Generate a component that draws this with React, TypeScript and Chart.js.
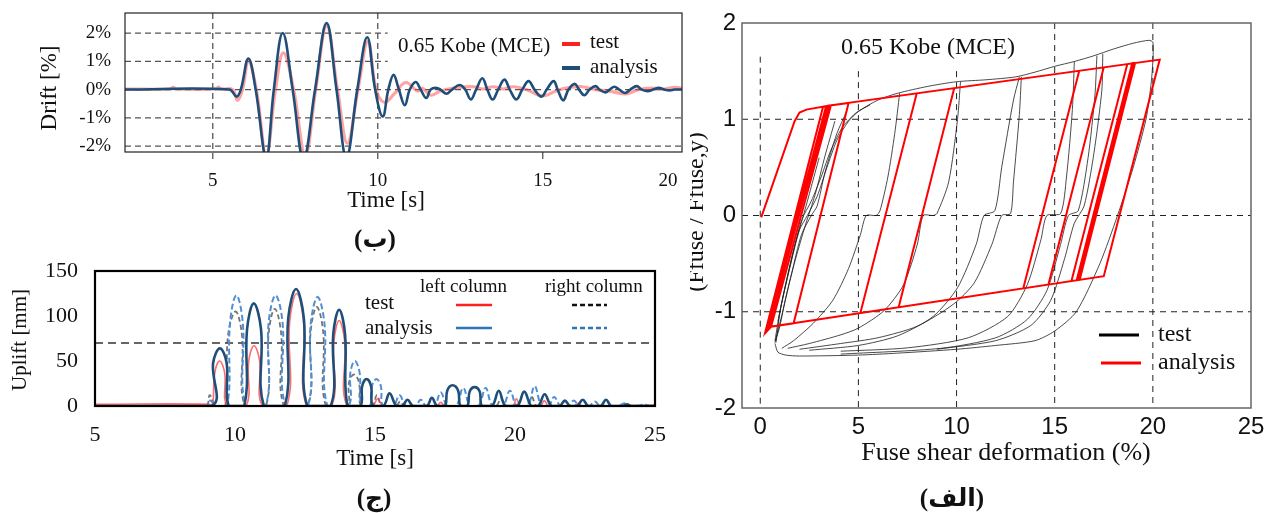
import React, { useEffect, useRef } from 'react';
import { Chart, registerables } from 'chart.js';

Chart.register(...registerables);

type Pt = [number, number];

const SERIF = "'Liberation Serif', 'Times New Roman', serif";
const SANS = "'Liberation Sans', Arial, sans-serif";
const ARABIC = "'Liberation Serif', 'DejaVu Sans', serif";

/* ---------- (ب) roof drift time history ---------- */
const DRIFT_X_TICKS = [5, 10, 15, 20];
const DRIFT_Y_TICKS = [-2, -1, 0, 1, 2];
const DRIFT_TEST: Pt[] = [
  [2.3, 0.02], [3.7, 0.02], [3.8, 0.08], [3.9, 0.02], [5.1, 0.02], [5.17, 0.09], [5.25, 0.02], [5.6, 0.0],
  [5.75, -0.38], [5.9, 0], [6.08, 1.0], [6.32, 0], [6.62, -2.3], [6.9, 0], [7.14, 1.3], [7.45, 0],
  [7.8, -2.3], [8.12, 0], [8.45, 2.25], [8.78, 0], [9.08, -1.9], [9.4, 0], [9.7, 1.7], [9.95, 0],
  [10.2, -0.45], [10.5, -0.15], [10.85, 0.25], [11.2, -0.05], [11.35, 0.05], [11.6, -0.2], [11.9, -0.05],
  [12.3, 0.05], [12.9, 0.1], [13.2, 0.02], [13.5, 0.1], [13.8, 0.02], [14.1, 0.1], [14.5, 0.0],
  [15.0, -0.22], [15.4, -0.05], [15.7, 0.05], [16.2, 0.1], [16.6, 0.0], [17.0, -0.05], [17.5, -0.15],
  [17.9, 0.0], [18.3, 0.05], [18.7, 0.02], [19.0, 0.08], [19.3, 0.03],
];
const DRIFT_ANALYSIS: Pt[] = [
  [2.3, 0], [5.5, 0], [5.72, -0.25], [5.85, 0], [6.08, 1.1], [6.3, 0], [6.62, -2.4], [6.85, 0],
  [7.12, 2.0], [7.42, 0], [7.75, -2.45], [8.1, 0], [8.45, 2.35], [8.75, 0], [9.05, -2.4], [9.38, 0],
  [9.68, 1.85], [9.92, 0], [10.15, -0.95], [10.32, 0], [10.48, 0.52], [10.64, 0], [10.82, -0.55],
  [10.97, 0], [11.15, 0.27], [11.3, 0], [11.47, -0.3], [11.6, 0], [11.76, 0.06], [11.9, 0],
  [12.08, -0.15], [12.25, 0], [12.48, 0.16], [12.65, 0], [12.82, -0.35], [12.98, 0], [13.17, 0.4],
  [13.32, 0], [13.48, -0.35], [13.65, 0], [13.84, 0.35], [14.0, 0], [14.2, -0.35], [14.38, 0],
  [14.57, 0.3], [14.75, 0], [14.96, -0.25], [15.12, 0], [15.33, 0.3], [15.45, 0], [15.62, -0.38],
  [15.78, 0], [15.97, 0.2], [16.1, 0], [16.26, -0.2], [16.42, 0], [16.6, 0.12], [16.72, 0],
  [16.9, -0.1], [17.03, 0], [17.17, 0.1], [17.32, 0], [17.5, -0.12], [17.65, 0], [17.85, 0.12],
  [18.0, 0], [18.18, -0.06], [18.35, 0], [18.52, 0.06], [18.68, 0], [18.85, -0.03], [19.0, 0], [19.3, 0],
];

/* ---------- (ج) column uplift ---------- */
const UPLIFT_X_TICKS = [5, 10, 15, 20, 25];
const UPLIFT_Y_TICKS = [0, 50, 100, 150];
const UPLIFT_LIMIT = 70;
const UPLIFT_LEFT_ANALYSIS: Pt[] = [
  [5, 0], [9.15, 0], [9.22, 48], [9.46, 64], [9.7, 48], [9.78, 0],
  [10.33, 0], [10.43, 85], [10.67, 114], [10.93, 85], [11.03, 0],
  [11.78, 0], [11.9, 97], [12.18, 130], [12.46, 97], [12.58, 0],
  [13.42, 0], [13.51, 80], [13.72, 107], [13.93, 80], [14.02, 0],
  [14.48, 0], [14.54, 22], [14.7, 30], [14.86, 22], [14.92, 0],
  [15.3, 0], [15.52, 14], [15.76, 0], [15.98, 0], [16.16, 7], [16.36, 0], [16.85, 0], [17.03, 9], [17.22, 0],
  [17.5, 0], [17.58, 17], [17.77, 23], [17.97, 17], [18.05, 0],
  [18.3, 0], [18.38, 16], [18.56, 21], [18.74, 16], [18.82, 0],
  [19.18, 0], [19.42, 17], [19.66, 0], [20.08, 0], [20.33, 16], [20.58, 0], [20.83, 0], [21.06, 13], [21.3, 0],
  [21.6, 0], [21.78, 6], [21.96, 0], [22.22, 0], [22.42, 7], [22.62, 0], [23.06, 0], [23.25, 7], [23.44, 0],
  [23.85, 0], [24.0, 2], [24.15, 0], [25, 0],
];
const UPLIFT_RIGHT_ANALYSIS: Pt[] = [
  [5, 0], [8.95, 0], [9.12, 6], [9.3, 0],
  [9.72, 0], [9.82, 92], [10.05, 123], [10.28, 92], [10.38, 0],
  [11.1, 0], [11.2, 92], [11.45, 123], [11.7, 92], [11.8, 0],
  [12.6, 0], [12.7, 90], [12.95, 121], [13.2, 90], [13.3, 0],
  [14.05, 0], [14.12, 37], [14.28, 50], [14.45, 37], [14.52, 0],
  [14.82, 0], [14.89, 22], [15.05, 30], [15.21, 22], [15.28, 0],
  [15.65, 0], [15.88, 12], [16.1, 0], [16.45, 0], [16.63, 7], [16.82, 0],
  [17.12, 0], [17.35, 15], [17.58, 0], [17.9, 0], [18.15, 20], [18.4, 0], [18.7, 0], [18.95, 20],
  [19.2, 0], [19.57, 0], [19.82, 17], [20.07, 0], [20.45, 0], [20.7, 22], [20.95, 0], [21.2, 0],
  [21.4, 10], [21.62, 0], [21.9, 0], [22.1, 6], [22.3, 0], [22.65, 0], [22.85, 5], [23.05, 0],
  [23.7, 0], [23.9, 3], [24.1, 0], [24.4, 0], [24.6, 2], [24.8, 0], [25, 0],
];
const UPLIFT_LEFT_TEST: Pt[] = [
  [5, 2], [9.1, 2], [9.2, 0], [9.28, 37], [9.45, 50], [9.63, 37], [9.72, 0],
  [10.4, 0], [10.49, 50], [10.68, 67], [10.88, 50], [10.98, 0],
  [11.85, 0], [11.95, 93], [12.2, 125], [12.45, 93], [12.55, 0],
  [13.45, 0], [13.53, 71], [13.72, 95], [13.92, 71], [14.0, 0],
  [14.9, 0], [15.1, 8], [15.3, 0],
  [17.2, 0], [17.35, 4], [17.5, 0], [19.9, 0], [20.05, 8], [20.2, 0], [20.9, 0], [21.05, 6], [21.2, 0],
  [22.1, 0], [22.25, 3], [22.4, 0], [25, 1],
];
const UPLIFT_RIGHT_TEST: Pt[] = [
  [5, 0], [8.95, 0], [9.1, 12], [9.3, 0],
  [9.65, 0], [9.75, 78], [10.02, 105], [10.25, 78], [10.35, 0],
  [11.1, 0], [11.2, 80], [11.42, 108], [11.65, 80], [11.75, 0],
  [12.6, 0], [12.7, 82], [12.92, 110], [13.15, 82], [13.25, 0],
  [14.0, 0], [14.07, 26], [14.25, 35], [14.43, 26], [14.5, 0],
  [14.9, 0], [15.07, 12], [15.25, 0], [15.75, 0], [15.9, 5], [16.05, 0], [19.3, 0], [19.5, 8], [19.7, 0],
  [20.4, 0], [20.6, 10], [20.8, 0], [25, 0],
];

/* ---------- (الف) fuse hysteresis ---------- */
const FUSE_X_TICKS = [0, 5, 10, 15, 20, 25];
const FUSE_Y_TICKS = [-2, -1, 0, 1, 2];
const FUSE_ANALYSIS: Pt[][] = [
  [[0.05, -0.02], [1.75, 0.98], [2.0, 1.07], [2.35, 1.1], [3.45, 1.14], [0.45, -1.16], [0.25, -1.215],
   [3.2, 1.13], [3.5, 1.14], [0.4, -1.17], [0.3, -1.2], [3.35, 1.135], [3.6, 1.145], [0.55, -1.155],
   [0.35, -1.2], [3.45, 1.14], [4.5, 1.17], [1.7, -1.12], [0.45, -1.16], [3.4, 1.14], [20.35, 1.62],
   [17.5, -0.631], [0.5, -1.155]],
  [[7.97, 1.268], [5.1, -1.013]],
  [[9.88, 1.322], [7.05, -0.953]],
  [[16.25, 1.505], [13.4, -0.757]],
  [[17.5, 1.54], [14.68, -0.718]],
  [[18.7, 1.575], [15.85, -0.682]],
  [[19.1, 1.587], [16.27, -0.669], [16.2, -0.671], [19.03, 1.585], [18.95, 1.583], [16.12, -0.673]],
];
const FUSE_TEST: Pt[][] = [
  [[0.75, -1.3], [1.0, -1.0], [1.5, -0.55], [2.0, -0.15], [2.4, 0.0], [2.9, 0.2], [3.4, 0.5], [3.9, 0.78],
   [4.5, 0.98], [5.0, 1.08], [6.0, 1.2], [7.0, 1.27], [8.5, 1.34], [10.0, 1.39], [11.5, 1.41], [13.0, 1.44],
   [14.0, 1.49], [15.0, 1.55], [16.0, 1.6], [17.0, 1.66], [18.0, 1.73], [19.0, 1.79], [19.8, 1.82],
   [20.0, 1.8], [20.0, 1.6], [19.9, 1.35], [19.65, 1.0], [19.0, 0.5], [18.2, 0.0], [17.3, -0.5],
   [16.1, -1.0], [15.0, -1.2], [14.0, -1.3], [12.0, -1.35], [10.0, -1.39], [7.0, -1.43], [5.0, -1.45],
   [2.0, -1.46], [1.3, -1.45], [0.9, -1.42], [0.75, -1.33]],
  [[0.8, -1.32], [1.05, -0.95], [1.6, -0.45], [2.1, -0.05], [2.6, 0.15], [3.1, 0.4], [3.6, 0.68],
   [4.2, 0.92], [4.9, 1.07], [5.6, 1.15]],
  [[4.4, 1.08], [3.9, 0.85], [3.3, 0.45], [2.9, 0.1], [2.6, 0.0], [2.1, -0.2], [1.6, -0.6], [1.2, -0.95],
   [0.9, -1.2], [0.75, -1.32]],
  [[3.8, 0.98], [3.3, 0.62], [2.8, 0.22], [2.3, -0.1], [1.8, -0.45], [1.3, -0.85], [1.0, -1.15], [0.78, -1.3]],
  [[3.0, 0.6], [2.6, 0.3], [2.2, 0.0], [1.7, -0.35], [1.2, -0.8], [0.9, -1.1]],
  [[7.1, 1.27], [6.85, 0.85], [6.5, 0.4], [6.1, 0.05], [5.9, 0.0], [5.4, 0.0], [5.1, -0.2], [4.5, -0.55],
   [3.7, -0.88], [2.7, -1.12], [1.7, -1.3], [1.1, -1.38]],
  [[10.2, 1.39], [10.05, 1.0], [9.6, 0.35], [9.0, 0.02], [8.8, 0.0], [8.3, 0.0], [8.0, -0.3], [7.3, -0.72],
   [6.3, -0.99], [5.0, -1.17], [4.1, -1.24], [2.5, -1.33], [1.4, -1.38]],
  [[13.3, 1.44], [13.2, 1.05], [12.9, 0.35], [12.75, 0.02], [12.3, 0.0], [11.8, -0.3], [10.9, -0.7],
   [9.85, -0.92], [8.0, -1.15], [6.0, -1.27], [4.1, -1.33], [2.0, -1.39]],
  [[13.2, 1.44], [12.9, 1.2], [12.3, 0.5], [11.95, 0.05], [11.4, 0.0], [11.0, -0.3], [10.05, -0.75],
   [8.8, -1.05], [7.0, -1.25], [5.0, -1.35], [2.5, -1.4]],
  [[16.0, 1.6], [15.9, 1.1], [15.6, 0.4], [15.3, 0.02], [14.6, 0.0], [14.3, -0.25], [13.6, -0.72],
   [12.6, -1.05], [10.6, -1.27], [7.5, -1.375], [4.1, -1.41]],
  [[17.15, 1.66], [17.05, 1.25], [16.7, 0.6], [16.2, 0.05], [15.7, 0.0], [15.3, -0.3], [14.6, -0.78],
   [13.6, -1.08], [12.0, -1.27], [9.2, -1.38], [4.1, -1.44]],
  [[17.45, 1.68], [17.4, 1.3], [17.0, 0.65], [16.5, 0.1], [16.0, -0.08], [15.5, -0.45], [14.8, -0.88],
   [13.8, -1.14], [12.0, -1.3], [9.0, -1.39]],
];

/* ---------- helpers ---------- */
const toXY = (pts: Pt[]) => pts.map(([x, y]) => ({ x, y }));
const toBrokenXY = (segs: Pt[][]) =>
  segs.flatMap((seg) => [...toXY(seg), { x: seg[seg.length - 1][0], y: null as any }]);

type Ctx = CanvasRenderingContext2D;
function line(ctx: Ctx, x1: number, y1: number, x2: number, y2: number, color: string, width: number, dash: number[] = []) {
  ctx.save();
  ctx.strokeStyle = color;
  ctx.lineWidth = width;
  ctx.setLineDash(dash);
  ctx.beginPath();
  ctx.moveTo(x1, y1);
  ctx.lineTo(x2, y2);
  ctx.stroke();
  ctx.restore();
}
function text(ctx: Ctx, s: string, x: number, y: number, font: string, align: CanvasTextAlign = 'left', color = '#111', rot = 0) {
  ctx.save();
  ctx.font = font;
  ctx.fillStyle = color;
  ctx.textAlign = align;
  ctx.textBaseline = 'middle';
  ctx.translate(x, y);
  if (rot) ctx.rotate(rot);
  ctx.fillText(s, 0, 0);
  ctx.restore();
}
function frame(chart: any, color: string, width: number) {
  const { left, top, right, bottom } = chart.chartArea;
  const ctx: Ctx = chart.ctx;
  ctx.save();
  ctx.strokeStyle = color;
  ctx.lineWidth = width;
  ctx.strokeRect(left, top, right - left, bottom - top);
  ctx.restore();
}
function decoPlugin(id: string, under: (c: any) => void, over: (c: any) => void) {
  return {
    id,
    beforeDatasetsDraw(chart: any) { under(chart); },
    afterDraw(chart: any) { over(chart); },
  };
}
const fixedTicks = (vals: number[]) => (axis: any) => {
  axis.ticks = vals.filter((v) => v >= axis.min && v <= axis.max).map((v) => ({ value: v }));
};
const fitBox = (key: 'width' | 'height', size: number) => (s: any) => {
  s[key] = size;
  s.paddingLeft = 0; s.paddingRight = 0; s.paddingTop = 0; s.paddingBottom = 0;
};
const noGrid = { display: false, drawTicks: false };
const noBorder = { display: false };
const commonPlugins = { legend: { display: false }, tooltip: { enabled: false } };

/* ---------- chart configs ---------- */
function driftConfig(): any {
  const tickFont = `19px ${SERIF}`;
  return {
    type: 'line',
    data: {
      datasets: [
        { data: toXY(DRIFT_ANALYSIS), borderColor: '#1f4e79', borderWidth: 2.6, pointRadius: 0, tension: 0.4 },
        { data: toXY(DRIFT_TEST), borderColor: 'rgba(255,70,70,0.5)', borderWidth: 3.2, pointRadius: 0, tension: 0.4 },
      ],
    },
    options: {
      responsive: false, animation: false, events: [],
      layout: { padding: { top: 13, right: 18, left: 0, bottom: 0 } },
      plugins: commonPlugins,
      scales: {
        x: {
          type: 'linear', min: 2.34, max: 19.22,
          afterBuildTicks: fixedTicks(DRIFT_X_TICKS),
          afterFit: fitBox('height', 98),
          grid: noGrid, border: noBorder,
          ticks: { font: { family: SERIF, size: 19 }, color: '#111', padding: 18, maxRotation: 0, autoSkip: false },
        },
        y: {
          type: 'linear', min: -2.21, max: 2.71,
          afterBuildTicks: fixedTicks(DRIFT_Y_TICKS),
          afterFit: fitBox('width', 125),
          grid: noGrid, border: noBorder,
          ticks: { font: { family: SERIF, size: 19 }, color: '#111', padding: 14, callback: (v: any) => `${v}%` },
        },
      },
    },
    plugins: [decoPlugin('driftDeco', (chart) => {
      const ctx: Ctx = chart.ctx;
      const { left, right, top, bottom } = chart.chartArea;
      const xs = chart.scales.x, ys = chart.scales.y;
      const c = '#555', d = [6, 4];
      [2, 1].forEach((v) => line(ctx, left, ys.getPixelForValue(v), xs.getPixelForValue(10.3), ys.getPixelForValue(v), c, 1.3, d));
      [0, -1, -2].forEach((v) => line(ctx, left, ys.getPixelForValue(v), right, ys.getPixelForValue(v), c, 1.3, d));
      [5, 10].forEach((v) => line(ctx, xs.getPixelForValue(v), top, xs.getPixelForValue(v), bottom + 7, c, 1.3, d));
      line(ctx, xs.getPixelForValue(15), bottom, xs.getPixelForValue(15), bottom + 7, c, 1.3);
    }, (chart) => {
      const ctx: Ctx = chart.ctx;
      const { right, bottom } = chart.chartArea;
      frame(chart, '#222', 1.2);
      // the last time label sits just inside the right end of the axis, as in the source figure
      DRIFT_X_TICKS.filter((v) => v > chart.scales.x.max).forEach((v) =>
        text(ctx, String(v), right - 14, bottom + 29.5, tickFont, 'center'));
      const f = `21px ${SERIF}`;
      text(ctx, 'Time [s]', 386, 201, `23px ${SERIF}`, 'center');
      text(ctx, 'Drift [%]', 50, 88, `23px ${SERIF}`, 'center', '#111', -Math.PI / 2);
      text(ctx, '0.65 Kobe (MCE)', 398, 46, f);
      line(ctx, 562, 44, 580, 44, '#ff2020', 4);
      text(ctx, 'test', 590, 42, f);
      line(ctx, 562, 68, 580, 68, '#1f4e79', 4);
      text(ctx, 'analysis', 590, 67, f);
    })],
  };
}

function upliftConfig(): any {
  return {
    type: 'line',
    data: {
      datasets: [
        { data: toXY(UPLIFT_LEFT_ANALYSIS), borderColor: '#1f4e79', borderWidth: 2.6, pointRadius: 0, tension: 0.4 },
        { data: toXY(UPLIFT_RIGHT_ANALYSIS), borderColor: '#4f8fd6', borderWidth: 2, borderDash: [6, 3], pointRadius: 0, tension: 0.4 },
        { data: toXY(UPLIFT_LEFT_TEST), borderColor: 'rgba(255,60,60,0.75)', borderWidth: 1.6, pointRadius: 0, tension: 0.4 },
        { data: toXY(UPLIFT_RIGHT_TEST), borderColor: 'rgba(70,70,70,0.75)', borderWidth: 1.8, borderDash: [5, 3], pointRadius: 0, tension: 0.4 },
      ],
    },
    options: {
      responsive: false, animation: false, events: [],
      layout: { padding: { top: 21, right: 45, left: 0, bottom: 0 } },
      plugins: commonPlugins,
      scales: {
        x: {
          type: 'linear', min: 5, max: 25,
          afterBuildTicks: fixedTicks(UPLIFT_X_TICKS),
          afterFit: fitBox('height', 107),
          grid: noGrid, border: noBorder,
          ticks: { font: { family: SERIF, size: 22 }, color: '#111', padding: 16, maxRotation: 0, autoSkip: false },
        },
        y: {
          type: 'linear', min: 0, max: 150,
          afterBuildTicks: fixedTicks(UPLIFT_Y_TICKS),
          afterFit: fitBox('width', 95),
          grid: noGrid, border: noBorder,
          ticks: { font: { family: SERIF, size: 22 }, color: '#111', padding: 17 },
        },
      },
    },
    plugins: [decoPlugin('upliftDeco', (chart) => {
      const ctx: Ctx = chart.ctx;
      const { left, right } = chart.chartArea;
      const y = chart.scales.y.getPixelForValue(UPLIFT_LIMIT);
      line(ctx, left, y, right, y, '#666', 2, [8, 5]);
    }, (chart) => {
      const ctx: Ctx = chart.ctx;
      frame(chart, '#000', 2.2);
      const f19 = `19px ${SERIF}`, f21 = `21px ${SERIF}`;
      text(ctx, 'Time [s]', 375, 209, `23px ${SERIF}`, 'center');
      text(ctx, 'Uplift [mm]', 20, 90, `21px ${SERIF}`, 'center', '#111', -Math.PI / 2);
      text(ctx, 'left column', 420, 37, f19);
      text(ctx, 'right column', 545, 37, f19);
      text(ctx, 'test', 365, 53, f21);
      text(ctx, 'analysis', 365, 78, f21);
      line(ctx, 456, 55, 492, 55, '#ff2020', 2.5);
      line(ctx, 572, 55, 607, 55, '#111', 2.5, [5, 3]);
      line(ctx, 456, 78, 492, 78, '#2e75b6', 2.5);
      line(ctx, 572, 78, 607, 78, '#2e75b6', 2.5, [5, 3]);
    })],
  };
}

function fuseConfig(): any {
  return {
    type: 'line',
    data: {
      datasets: [
        { data: toBrokenXY(FUSE_ANALYSIS), borderColor: '#ff0000', borderWidth: 2, pointRadius: 0, tension: 0, spanGaps: false },
        { data: toBrokenXY(FUSE_TEST), borderColor: 'rgba(30,30,30,0.8)', borderWidth: 1, pointRadius: 0, tension: 0.25, spanGaps: false },
      ],
    },
    options: {
      responsive: false, animation: false, events: [],
      layout: { padding: { top: 23, right: 15, left: 0, bottom: 0 } },
      plugins: commonPlugins,
      scales: {
        x: {
          type: 'linear', min: -0.93, max: 25,
          afterBuildTicks: fixedTicks(FUSE_X_TICKS),
          afterFit: fitBox('height', 105),
          grid: noGrid, border: noBorder,
          ticks: { font: { family: SANS, size: 24 }, color: '#111', padding: 5, maxRotation: 0, autoSkip: false },
        },
        y: {
          type: 'linear', min: -2, max: 2,
          afterBuildTicks: fixedTicks(FUSE_Y_TICKS),
          afterFit: fitBox('width', 52),
          grid: noGrid, border: noBorder,
          ticks: { font: { family: SANS, size: 24 }, color: '#111', padding: 6 },
        },
      },
    },
    plugins: [decoPlugin('fuseDeco', (chart) => {
      const ctx: Ctx = chart.ctx;
      const { left, right, top, bottom } = chart.chartArea;
      const xs = chart.scales.x, ys = chart.scales.y;
      const c = '#222', d = [6, 5];
      [1, 0, -1].forEach((v) => line(ctx, left, ys.getPixelForValue(v), right, ys.getPixelForValue(v), c, 1, d));
      const starts: Record<number, number> = { 0: 1.65, 5: 1.5, 10: 1.5, 15: 2, 20: 2 };
      [0, 5, 10, 15, 20].forEach((v) => {
        const x = xs.getPixelForValue(v);
        line(ctx, x, Math.max(top, ys.getPixelForValue(starts[v])), x, bottom, c, 1, d);
      });
    }, (chart) => {
      const ctx: Ctx = chart.ctx;
      frame(chart, '#666', 1.5);
      const f24 = `24px ${SERIF}`;
      text(ctx, 'Fuse shear deformation (%)', 316, 453, `26px ${SERIF}`, 'center');
      text(ctx, '0.65 Kobe (MCE)', 151, 48, f24);
      line(ctx, 409, 335, 449, 335, '#000', 3);
      text(ctx, 'test', 468, 335, f24);
      line(ctx, 411, 363, 451, 363, '#ff0000', 3);
      text(ctx, 'analysis', 468, 363, f24);
      ctx.save();
      ctx.translate(13, 212);
      ctx.rotate(-Math.PI / 2);
      ctx.font = `24px ${SERIF}`;
      ctx.fillStyle = '#111';
      ctx.textAlign = 'center';
      ctx.textBaseline = 'alphabetic';
      ctx.fillText('(Ffuse / Ffuse,y)', 0, 0);
      ctx.restore();
    })],
  };
}

function ChartCanvas({ left, top, width, height, make }: { left: number; top: number; width: number; height: number; make: () => any }) {
  const ref = useRef<HTMLCanvasElement>(null);
  useEffect(() => {
    const chart = new Chart(ref.current as HTMLCanvasElement, make());
    return () => chart.destroy();
  }, []);
  return <canvas ref={ref} width={width} height={height} style={{ position: 'absolute', left, top, width, height }} />;
}

function Caption({ x, y, children }: { x: number; y: number; children: string }) {
  return (
    <div style={{ position: 'absolute', left: x, top: y, transform: 'translate(-50%, -50%)', font: `bold 25px ${ARABIC}`, color: '#111', whiteSpace: 'nowrap' }}>
      {children}
    </div>
  );
}

export default function App() {
  return (
    <div style={{ position: 'absolute', left: 0, top: 0, width: 1266, height: 513, background: '#fff', overflow: 'hidden' }}>
      <ChartCanvas left={0} top={0} width={700} height={250} make={driftConfig} />
      <ChartCanvas left={0} top={250} width={700} height={263} make={upliftConfig} />
      <ChartCanvas left={690} top={0} width={576} height={513} make={fuseConfig} />
      <Caption x={375} y={238}>(ب)</Caption>
      <Caption x={374} y={497}>(ج)</Caption>
      <Caption x={952} y={497}>(الف)</Caption>
    </div>
  );
}
